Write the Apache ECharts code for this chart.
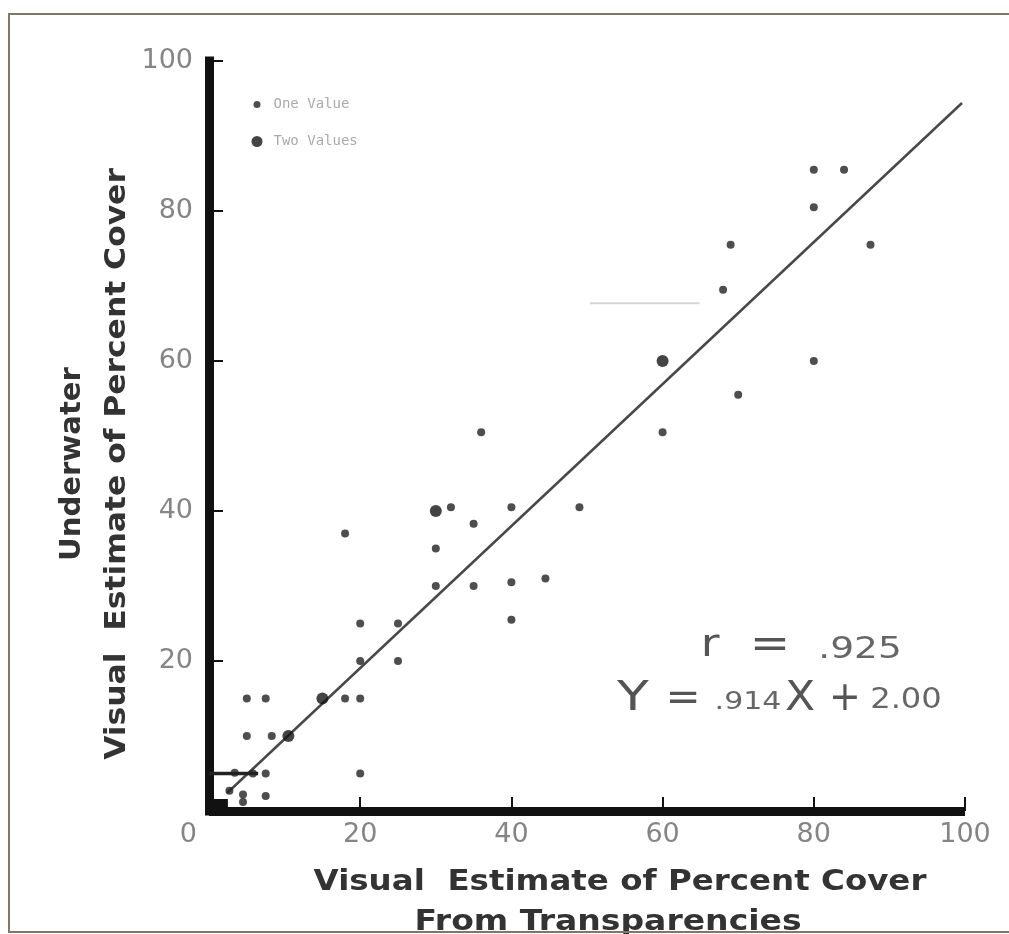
<!DOCTYPE html>
<html>
<head>
<meta charset="utf-8">
<script src="https://cdn.jsdelivr.net/npm/echarts@6/dist/echarts.min.js"></script>
<style>
html,body{margin:0;padding:0;background:#fff;}
#chart{width:1009px;height:934px;}
</style>
</head>
<body>
<div id="chart"></div>
<script>
// ---- data ----
const xTicks = [0, 20, 40, 60, 80, 100];
const yTicks = [0, 20, 40, 60, 80, 100];

// points with one value
const oneValue = [
  [80, 85.5], [84, 85.5], [80, 80.5], [69, 75.5], [87.5, 75.5], [68, 69.5],
  [80, 60], [70, 55.5], [60, 50.5],
  [36, 50.5], [32, 40.5], [40, 40.5], [49, 40.5], [35, 38.3], [18, 37],
  [30, 35], [30, 30], [35, 30], [40, 30.5], [44.5, 31],
  [20, 25], [25, 25], [40, 25.5],
  [20, 20], [25, 20],
  [5, 15], [7.5, 15], [18, 15], [20, 15],
  [5, 10], [8.3, 10],
  [3.4, 5.1], [5.8, 5], [7.5, 5], [20, 5],
  [2.7, 2.7], [4.5, 2.2], [4.5, 1.2], [7.5, 2]
];
// points with two values
const twoValues = [
  [60, 60], [30, 40], [15, 15], [10.5, 10]
];
// fitted line as drawn (end points)
const fitLine = [[2.4, 2.4], [99.6, 94.4]];
// short heavy bar at y = 5 near the axis
const barAt5 = [[0, 5], [6.5, 5]];
// faint stray stroke in the original
const faintStroke = [[50.4, 67.7], [64.9, 67.7]];
// dense block at the origin
const originBlock = [[0, 0], [2.5, 1.6]];

const line1Tokens = ['r', '=', '.925'];
const line2Tokens = ['Y', '=', '.914', 'X', '+', '2.00'];

const chart = echarts.init(document.getElementById('chart'), null, {renderer: 'canvas'});

const tickFont = {fontFamily: 'DejaVu Sans', fontSize: 27, color: '#858585'};

function tok(text, x, y, size, sx, fill) {
  return {
    type: 'text', silent: true, x: x, y: y, scaleX: sx, scaleY: 1,
    style: {text: text, x: 0, y: 0, textAlign: 'center', textVerticalAlign: 'middle',
      font: size + 'px "DejaVu Sans"', fill: fill}
  };
}

const option = {
  backgroundColor: '#fff',
  animation: false,
  grid: {left: 209, right: 44, top: 61, bottom: 123, containLabel: false},
  xAxis: {
    type: 'value', min: 0, max: 100, interval: 20,
    axisLine: {show: true, lineStyle: {color: '#111', width: 9, cap: 'butt'}},
    axisTick: {show: true, inside: true, length: 14, lineStyle: {color: '#111', width: 2}},
    axisLabel: Object.assign({margin: 10, alignMinLabel: 'right',
      formatter: v => v === 0 ? '{z|0}' : (xTicks.includes(v) ? String(v) : ''),
      rich: {z: {fontFamily: 'DejaVu Sans', fontSize: 27, color: '#858585', padding: [0, 12, 0, 0]}}
    }, tickFont),
    splitLine: {show: false}
  },
  yAxis: {
    type: 'value', min: 0, max: 100, interval: 20,
    axisLine: {show: true, lineStyle: {color: '#111', width: 9, cap: 'square'}},
    axisTick: {show: true, inside: true, length: 14, lineStyle: {color: '#111', width: 2}},
    axisLabel: Object.assign({margin: 16, showMinLabel: false,
      formatter: v => yTicks.includes(v) ? String(v) : ''}, tickFont),
    splitLine: {show: false}
  },
  legend: [
    {
      data: ['One Value'], orient: 'vertical', left: 253.5, top: 97.5, padding: 0,
      itemWidth: 7, itemHeight: 7, icon: 'circle', itemGap: 0,
      textStyle: {fontFamily: 'DejaVu Sans Mono', fontSize: 14, color: '#aaa', padding: [0, 0, 0, 8]}
    },
    {
      data: ['Two Values'], orient: 'vertical', left: 251.5, top: 134.5, padding: 0,
      itemWidth: 11, itemHeight: 11, icon: 'circle', itemGap: 0,
      textStyle: {fontFamily: 'DejaVu Sans Mono', fontSize: 14, color: '#aaa', padding: [0, 0, 0, 6]}
    }
  ],
  series: [
    {
      name: 'fit', type: 'line', data: fitLine, symbol: 'none', silent: true,
      lineStyle: {color: '#484848', width: 2.5}, z: 2
    },
    {
      name: 'bar5', type: 'line', data: barAt5, symbol: 'none', silent: true,
      lineStyle: {color: '#222', width: 3.5}, z: 2,
      markArea: {
        silent: true,
        itemStyle: {color: '#111'},
        data: [[{coord: originBlock[0]}, {coord: originBlock[1]}]]
      }
    },
    {
      name: 'stroke', type: 'line', data: faintStroke, symbol: 'none', silent: true,
      lineStyle: {color: '#d6d6d6', width: 2}, z: 1
    },
    {
      name: 'One Value', type: 'scatter', data: oneValue, symbol: 'circle', symbolSize: 8,
      itemStyle: {color: '#222'}, z: 3
    },
    {
      name: 'Two Values', type: 'scatter', data: twoValues, symbol: 'circle', symbolSize: 12,
      itemStyle: {color: '#151515'}, z: 3
    }
  ],
  graphic: [
    {
      type: 'rect', silent: true, z: 100,
      shape: {x: 9, y: 14, width: 1100, height: 918},
      style: {fill: 'none', stroke: '#7d7867', lineWidth: 2}
    },
    {
      type: 'text', silent: true, x: 620, y: 883, scaleX: 1.16, scaleY: 1,
      style: {
        text: 'Visual  Estimate of Percent Cover',
        x: 0, y: 0, textAlign: 'center', textVerticalAlign: 'middle',
        font: 'bold 28px "DejaVu Sans"', fill: '#333'
      }
    },
    {
      type: 'text', silent: true, x: 608, y: 923, scaleX: 1.18, scaleY: 1,
      style: {
        text: 'From Transparencies',
        x: 0, y: 0, textAlign: 'center', textVerticalAlign: 'middle',
        font: 'bold 28px "DejaVu Sans"', fill: '#333'
      }
    },
    {
      type: 'text', silent: true, x: 73, y: 464, rotation: Math.PI / 2, scaleX: 1.04, scaleY: 1,
      style: {
        text: 'Underwater', x: 0, y: 0, textAlign: 'center', textVerticalAlign: 'middle',
        font: 'bold 28px "DejaVu Sans"', fill: '#333'
      }
    },
    {
      type: 'text', silent: true, x: 118, y: 464, rotation: Math.PI / 2, scaleX: 1.12, scaleY: 1,
      style: {
        text: 'Visual  Estimate of Percent Cover', x: 0, y: 0, textAlign: 'center', textVerticalAlign: 'middle',
        font: 'bold 28px "DejaVu Sans"', fill: '#333'
      }
    },
    tok(line1Tokens[0], 710, 646, 38, 1.2, '#555'),
    tok(line1Tokens[1], 770, 646, 42, 1.15, '#555'),
    tok(line1Tokens[2], 860, 650, 30, 1.25, '#666'),
    tok(line2Tokens[0], 633, 700, 40, 1.3, '#555'),
    tok(line2Tokens[1], 683, 700, 40, 1.05, '#555'),
    tok(line2Tokens[2], 748, 703, 24, 1.25, '#666'),
    tok(line2Tokens[3], 800, 700, 40, 1.1, '#555'),
    tok(line2Tokens[4], 845, 700, 40, 0.95, '#555'),
    tok(line2Tokens[5], 906, 701, 28, 1.15, '#666')
  ]
};
chart.setOption(option);
</script>
</body>
</html>
